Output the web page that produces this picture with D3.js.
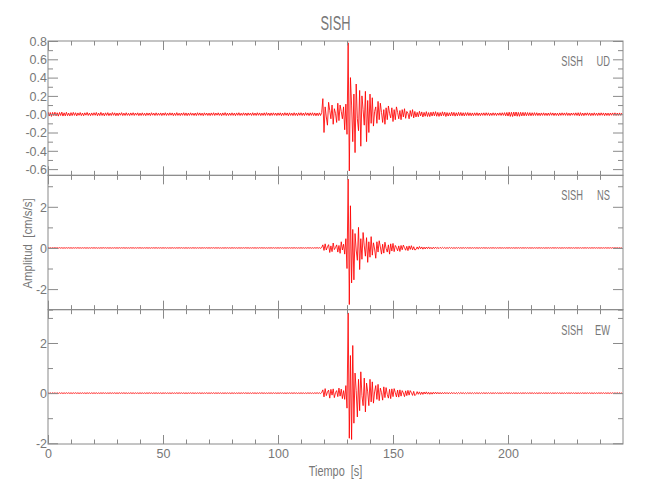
<!DOCTYPE html>
<html><head><meta charset="utf-8">
<script src="https://cdn.jsdelivr.net/npm/d3@7"></script>
<style>
body{margin:0;background:#fff}
svg text{font-family:"Liberation Sans",Arial,sans-serif;fill:#777;white-space:pre}
</style></head><body>
<svg id="chart" width="650" height="500"></svg>
<script>
const chartTitle = "SISH";
const stationName = "SISH";
const components = ["UD","NS","EW"];
const xTitle = "Tiempo  [s]";
const yTitle = "Amplitud  [cm/s/s]";
const sampleStart = 0, sampleStep = 0.5;
const timeDomain = [0, 250];
const timeTicks = [0,50,100,150,200];
const timeTickLabels = ["0","50","100","150","200"];
const timeMinorTicks = [10,20,30,40,60,70,80,90,110,120,130,140,160,170,180,190,210,220,230,240];

const udDomain = [-0.668, 0.8];
const udTicks = [-0.6,-0.4,-0.2,0,0.2,0.4,0.6,0.8];
const udTickLabels = ["-0.6","-0.4","-0.2","-0.0","0.2","0.4","0.6","0.8"];
const udMinorTicks = [-0.5,-0.3,-0.1,0.1,0.3,0.5,0.7];

const nsDomain = [-3.0, 3.53];
const nsTicks = [-2,0,2];
const nsTickLabels = ["-2","0","2"];
const nsMinorTicks = [-3,-1,1,3];

const ewDomain = [-2.03, 3.33];
const ewTicks = [-2,0,2];
const ewTickLabels = ["-2","0","2"];
const ewMinorTicks = [-1,1,3];

const udValues = [
.025,-.02,.018,-.024,.02,-.015,.022,-.018,.016,-.021,.019,-.014,.023,-.02,.015,-.018,.021,-.016,.012,-.019,
.017,-.015,.02,-.013,.016,-.019,.014,-.012,.018,-.016,.013,-.017,.015,-.011,.019,-.014,.012,-.016,.014,-.013,
.016,-.012,.019,-.017,.013,-.015,.02,-.014,.012,-.018,.015,-.013,.017,-.016,.011,-.014,.018,-.012,.015,-.017,
.013,-.016,.014,-.011,.017,-.015,.012,-.014,.016,-.013,.011,-.015,.014,-.012,.016,-.014,.013,-.011,.015,-.016,
.012,-.014,.015,-.013,.011,-.016,.014,-.012,.013,-.015,.016,-.011,.012,-.014,.015,-.013,.011,-.012,.014,-.015,
.013,-.012,.016,-.014,.012,-.013,.015,-.011,.014,-.016,.012,-.014,.017,-.013,.011,-.015,.013,-.012,.016,-.014,
.014,-.016,.012,-.013,.015,-.012,.011,-.014,.013,-.015,.016,-.012,.014,-.013,.012,-.016,.015,-.011,.013,-.014,
.012,-.015,.014,-.012,.016,-.014,.013,-.011,.015,-.013,.012,-.016,.014,-.012,.017,-.015,.013,-.014,.012,-.013,
.015,-.013,.012,-.016,.014,-.012,.016,-.014,.011,-.013,.015,-.012,.013,-.015,.014,-.011,.012,-.014,.016,-.013,
.013,-.014,.016,-.012,.014,-.015,.012,-.013,.015,-.014,.017,-.012,.013,-.016,.014,-.013,.015,-.012,.013,-.015,
.014,-.012,.015,-.016,.013,-.014,.016,-.012,.014,-.017,.015,-.013,.012,-.015,.016,-.014,.013,-.016,.015,-.012,
.016,-.014,.013,-.015,.017,-.012,.014,-.016,.015,-.013,.016,-.015,.014,-.017,.013,-.016,.015,-.014,.018,.17,
-.2,.08,-.03,-.12,.13,.04,-.05,.1,-.11,.06,.01,-.09,.12,-.07,.1,.03,-.05,.08,-.17,.11,
-.22,.78,-.62,.4,.1,-.3,.22,-.42,.33,-.05,-.18,.26,-.35,.2,.05,-.12,.25,-.3,.15,-.2,
.22,-.1,.18,-.13,.03,.08,-.1,.14,-.06,.12,.02,-.09,.05,-.11,.07,-.06,.09,.01,-.04,.07,
-.08,.05,-.06,.08,.02,-.05,.04,-.06,.05,-.03,.06,-.045,.03,.01,-.05,.04,-.025,.05,-.04,.03,
-.03,.02,-.028,.032,-.018,.025,-.03,.02,-.022,.028,-.025,.018,-.026,.022,-.02,.025,-.018,.028,-.022,.02,
-.024,.018,-.02,.026,-.016,.022,-.025,.018,-.02,.016,-.019,.022,-.017,.02,-.021,.016,-.018,.02,-.016,.019,
-.018,.016,-.019,.017,-.015,.018,-.016,.015,-.017,.014,-.016,.015,-.014,.016,-.015,.013,-.016,.014,-.013,.015,
-.014,.016,-.013,.015,-.016,.012,-.014,.015,-.013,.014,-.015,.013,-.012,.015,-.014,.016,-.013,.017,-.018,.019,
-.02,.022,-.024,.021,-.025,.023,-.02,.024,-.022,.02,-.023,.021,-.019,.02,-.018,.02,-.017,.018,-.016,.017,
-.017,.016,-.015,.017,-.014,.016,-.015,.013,-.016,.014,-.013,.015,-.014,.012,-.015,.013,-.014,.016,-.012,.014,
-.015,.013,-.014,.012,-.016,.014,-.013,.015,-.012,.014,-.013,.016,-.014,.012,-.015,.013,-.011,.014,-.013,.015,
-.014,.016,-.018,.017,-.015,.013,-.016,.014,-.012,.015,-.013,.014,-.016,.012,-.014,.015,-.013,.012,-.015,.014,
-.013,.015,-.012,.014,-.016,.013,-.014,.012,-.015,.013,-.012,.014,-.013,.015,-.014,.012,-.013,.014,-.012,.013
];

const nsValues = [
.015,-.012,.01,-.014,.012,-.009,.013,-.011,.01,-.012,.014,-.01,.011,-.013,.009,-.011,.012,-.01,.013,-.012,
.011,-.013,.01,-.009,.012,-.011,.013,-.01,.009,-.012,.011,-.01,.012,-.013,.01,-.011,.009,-.012,.013,-.01,
.012,-.01,.011,-.013,.009,-.012,.01,-.011,.013,-.009,.012,-.011,.01,-.012,.011,-.013,.009,-.01,.012,-.011,
.01,-.012,.013,-.011,.01,-.009,.012,-.013,.011,-.01,.009,-.012,.013,-.01,.011,-.012,.01,-.011,.012,-.009,
.013,-.011,.009,-.012,.011,-.01,.012,-.011,.01,-.013,.012,-.009,.011,-.01,.013,-.012,.01,-.009,.011,-.012,
.011,-.01,.012,-.013,.01,-.011,.009,-.012,.013,-.011,.01,-.012,.011,-.009,.012,-.01,.013,-.011,.009,-.012,
.012,-.013,.011,-.01,.009,-.012,.013,-.011,.01,-.012,.011,-.01,.012,-.013,.01,-.009,.011,-.012,.013,-.01,
.01,-.011,.012,-.009,.013,-.012,.011,-.01,.012,-.011,.009,-.013,.01,-.012,.011,-.01,.012,-.011,.01,-.013,
.013,-.01,.011,-.012,.01,-.013,.012,-.011,.009,-.01,.012,-.011,.013,-.01,.011,-.012,.009,-.011,.012,-.01,
.011,-.012,.01,-.011,.013,-.009,.012,-.01,.011,-.013,.01,-.012,.011,-.01,.012,-.011,.013,-.012,.01,-.011,
.012,-.011,.013,-.01,.011,-.012,.01,-.013,.012,-.011,.013,-.01,.011,-.012,.014,-.011,.012,-.013,.011,-.012,
.013,-.012,.011,-.014,.012,-.013,.015,-.011,.013,-.014,.012,-.015,.014,-.012,.016,-.013,.015,-.017,.02,.15,
-.12,.2,-.1,.05,.16,-.22,.1,-.18,.24,-.08,.02,.15,-.2,.12,-.26,.3,-.1,.18,-.3,.45,
-1.0,3.35,-2.75,2.05,-1.7,.9,-1.55,.7,-.1,-.6,1.0,-1.05,.45,-.55,.75,.1,-.4,.5,-.7,.3,
-.45,.55,-.35,.25,-.05,-.5,.3,-.2,.35,.05,-.3,.18,-.25,.28,-.02,-.2,.15,-.3,.2,-.15,
.22,-.18,.12,.02,-.14,.1,-.17,.12,-.09,.14,.01,-.11,.08,-.13,.1,-.07,.11,-.09,.06,-.1,
-.07,.05,-.06,.07,-.04,.05,-.06,.04,-.05,.045,-.035,.05,-.04,.03,-.045,.035,-.03,.04,-.03,.025,
-.03,.028,-.025,.03,-.022,.024,-.026,.02,-.022,.025,-.018,.02,-.022,.017,-.02,.018,-.016,.02,-.017,.015,
-.018,.017,-.016,.017,-.015,.016,-.014,.015,-.016,.014,-.013,.015,-.014,.013,-.015,.012,-.014,.013,-.012,.014,
-.013,.012,-.014,.011,-.013,.012,-.011,.013,-.012,.011,-.013,.012,-.011,.013,-.012,.01,-.012,.011,-.013,.012,
-.011,.013,-.012,.01,-.011,.012,-.013,.011,-.01,.012,-.011,.013,-.012,.011,-.01,.012,-.011,.013,-.012,.01,
-.012,.011,-.013,.012,-.01,.011,-.012,.013,-.011,.01,-.012,.011,-.013,.01,-.011,.012,-.01,.011,-.012,.013,
-.011,.012,-.01,.013,-.012,.011,-.013,.01,-.011,.012,-.01,.011,-.012,.013,-.011,.01,-.012,.011,-.013,.012,
-.012,.01,-.011,.012,-.013,.011,-.01,.012,-.011,.013,-.012,.01,-.011,.012,-.01,.013,-.011,.012,-.01,.011,
-.013,.011,-.012,.01,-.011,.013,-.012,.011,-.01,.012,-.011,.013,-.012,.01,-.011,.012,-.013,.011,-.012,.01
];

const ewValues = [
.016,-.013,.012,-.015,.014,-.011,.013,-.016,.012,-.014,.015,-.012,.013,-.014,.011,-.013,.015,-.012,.014,-.013,
.012,-.014,.013,-.011,.015,-.013,.012,-.014,.011,-.012,.014,-.013,.012,-.015,.013,-.011,.012,-.014,.013,-.012,
.013,-.012,.014,-.015,.011,-.013,.012,-.011,.014,-.012,.013,-.014,.011,-.012,.015,-.013,.012,-.011,.014,-.013,
.011,-.013,.015,-.012,.013,-.011,.014,-.013,.012,-.014,.011,-.012,.014,-.013,.012,-.015,.013,-.012,.011,-.014,
.014,-.012,.011,-.013,.012,-.014,.013,-.012,.015,-.011,.013,-.014,.012,-.011,.014,-.013,.011,-.012,.013,-.015,
.012,-.011,.013,-.014,.012,-.013,.011,-.015,.014,-.012,.011,-.013,.015,-.012,.013,-.011,.014,-.013,.012,-.014,
.013,-.015,.012,-.011,.014,-.012,.013,-.014,.011,-.013,.012,-.011,.014,-.015,.012,-.013,.011,-.012,.015,-.013,
.011,-.012,.014,-.013,.015,-.014,.012,-.011,.013,-.012,.014,-.015,.011,-.013,.012,-.014,.013,-.012,.011,-.015,
.014,-.013,.012,-.015,.011,-.012,.013,-.014,.012,-.011,.015,-.013,.014,-.012,.011,-.013,.012,-.015,.014,-.011,
.012,-.014,.011,-.012,.014,-.011,.015,-.013,.012,-.014,.011,-.013,.012,-.011,.013,-.014,.015,-.012,.011,-.013,
.013,-.012,.015,-.011,.012,-.014,.011,-.015,.013,-.012,.014,-.011,.012,-.013,.015,-.012,.013,-.016,.012,-.014,
.014,-.013,.012,-.016,.013,-.015,.016,-.012,.014,-.015,.013,-.016,.015,-.013,.017,-.014,.016,-.018,.022,.13,
-.15,.18,-.1,.04,.12,-.2,.15,-.08,.17,-.18,.02,.1,-.14,.2,-.12,.16,-.22,.1,-.25,.3,
-.6,3.2,-1.8,1.5,-1.85,1.9,-1.2,.8,.1,-.95,.55,-.7,.85,-.1,-.5,.6,-.75,.4,.05,-.5,
.55,-.35,.45,-.4,.05,.3,-.25,.35,-.3,.2,.02,-.28,.25,-.18,.22,-.05,-.2,.15,-.22,.17,
-.14,.18,.02,-.15,.12,-.16,.13,-.12,.1,.01,-.14,.09,-.1,.11,-.08,.1,.02,-.09,.07,-.1,
-.05,.06,-.045,.05,-.055,.04,-.05,.045,-.035,.05,-.04,.035,-.045,.03,-.04,.035,-.03,.04,-.03,.032,
-.03,.028,-.032,.025,-.028,.03,-.024,.026,-.028,.022,-.025,.027,-.022,.024,-.026,.02,-.023,.022,-.02,.024,
-.021,.02,-.022,.018,-.02,.021,-.018,.02,-.019,.017,-.02,.018,-.017,.019,-.018,.016,-.018,.017,-.016,.018,
-.017,.016,-.015,.017,-.016,.015,-.016,.014,-.015,.016,-.014,.015,-.016,.014,-.015,.013,-.015,.014,-.013,.015,
-.014,.015,-.014,.013,-.015,.014,-.013,.014,-.015,.013,-.014,.013,-.015,.014,-.013,.015,-.014,.013,-.014,.015,
-.013,.014,-.015,.013,-.014,.012,-.015,.014,-.013,.015,-.014,.012,-.013,.015,-.014,.013,-.012,.014,-.015,.013,
-.014,.013,-.012,.015,-.013,.014,-.015,.012,-.014,.013,-.015,.014,-.012,.013,-.014,.015,-.013,.012,-.014,.013,
-.015,.013,-.014,.012,-.013,.015,-.014,.013,-.012,.014,-.013,.015,-.014,.012,-.015,.013,-.014,.012,-.013,.014,
-.012,.014,-.013,.015,-.014,.012,-.013,.014,-.015,.013,-.012,.014,-.013,.012,-.014,.015,-.013,.014,-.012,.013
];

// ---- layout ----
const plotLeft = 48, plotRight = 623, plotTop = 41, plotBottom = 444;
const panelH = (plotBottom - plotTop) / 3;
const axisColor = "#8a8a8a", textColor = "#777";

const panels = [
  {comp: components[0], values: udValues, domain: udDomain, ticks: udTicks, labels: udTickLabels, minor: udMinorTicks},
  {comp: components[1], values: nsValues, domain: nsDomain, ticks: nsTicks, labels: nsTickLabels, minor: nsMinorTicks},
  {comp: components[2], values: ewValues, domain: ewDomain, ticks: ewTicks, labels: ewTickLabels, minor: ewMinorTicks}
];

const svg = d3.select("#chart");
const x = d3.scaleLinear().domain(timeDomain).range([plotLeft, plotRight]);
const defs = svg.append("defs");

function styleAxis(g) {
  g.select(".domain").remove();
  g.selectAll(".tick line").attr("stroke", axisColor);
  g.selectAll(".tick text").attr("fill", textColor).style("font-size", "12.5px");
}

panels.forEach((p, i) => {
  const y0 = plotTop + i * panelH, y1 = y0 + panelH;
  const y = d3.scaleLinear().domain(p.domain).range([y1, y0]);
  const g = svg.append("g");

  defs.append("clipPath").attr("id", "clip" + i)
    .append("rect").attr("x", plotLeft).attr("y", y0).attr("width", plotRight - plotLeft).attr("height", panelH);

  const line = d3.line()
    .x((d, k) => x(sampleStart + k * sampleStep))
    .y(d => y(d));
  g.append("path").datum(p.values)
    .attr("clip-path", "url(#clip" + i + ")")
    .attr("fill", "none").attr("stroke", "#ff0000").attr("stroke-width", 0.85)
    .attr("d", line);

  g.append("g").attr("transform", `translate(${plotLeft},0)`)
    .call(d3.axisLeft(y).tickValues(p.ticks).tickSize(-10).tickSizeOuter(0).tickPadding(1)
      .tickFormat((d, k) => p.labels[k]))
    .call(styleAxis)
    .call(a => a.selectAll(".tick text").attr("dy", "0.35em"));
  g.append("g").attr("transform", `translate(${plotLeft},0)`)
    .call(d3.axisLeft(y).tickValues(p.minor).tickSize(-5).tickSizeOuter(0).tickFormat(""))
    .call(styleAxis);
  g.append("g").attr("transform", `translate(${plotRight},0)`)
    .call(d3.axisRight(y).tickValues(p.ticks).tickSize(-10).tickSizeOuter(0).tickFormat(""))
    .call(styleAxis);
  g.append("g").attr("transform", `translate(${plotRight},0)`)
    .call(d3.axisRight(y).tickValues(p.minor).tickSize(-5).tickSizeOuter(0).tickFormat(""))
    .call(styleAxis);
  g.append("g").attr("transform", `translate(0,${y0})`)
    .call(d3.axisTop(x).tickValues(timeTicks).tickSize(-9).tickSizeOuter(0).tickFormat(""))
    .call(styleAxis);
  g.append("g").attr("transform", `translate(0,${y0})`)
    .call(d3.axisTop(x).tickValues(timeMinorTicks).tickSize(-4.5).tickSizeOuter(0).tickFormat(""))
    .call(styleAxis);
  const isLast = i === panels.length - 1;
  g.append("g").attr("transform", `translate(0,${y1})`)
    .call(d3.axisBottom(x).tickValues(timeTicks).tickSize(-9).tickSizeOuter(0).tickPadding(5)
      .tickFormat((d, k) => isLast ? timeTickLabels[k] : ""))
    .call(styleAxis);
  g.append("g").attr("transform", `translate(0,${y1})`)
    .call(d3.axisBottom(x).tickValues(timeMinorTicks).tickSize(-4.5).tickSizeOuter(0).tickFormat(""))
    .call(styleAxis);

  g.append("rect").attr("x", plotLeft).attr("y", y0).attr("width", plotRight - plotLeft).attr("height", panelH)
    .attr("fill", "none").attr("stroke", axisColor).attr("stroke-width", 1);

  g.append("text").attr("transform", `translate(583,${y0 + 25}) scale(0.6,1)`)
    .attr("text-anchor", "end").style("font-size", "15.5px").text(stationName);
  g.append("text").attr("transform", `translate(610,${y0 + 25}) scale(0.6,1)`)
    .attr("text-anchor", "end").style("font-size", "15.5px").text(p.comp);
});

svg.append("text").attr("transform", `translate(${(plotLeft + plotRight) / 2},30) scale(0.64,1)`)
  .attr("text-anchor", "middle").style("font-size", "20px").text(chartTitle);

svg.append("text").attr("transform", `translate(${(plotLeft + plotRight) / 2},476) scale(0.78,1)`)
  .attr("text-anchor", "middle").style("font-size", "14px").text(xTitle);
svg.append("text").attr("transform", `translate(32,${(plotTop + plotBottom) / 2 + 1}) rotate(-90) scale(0.88,1)`)
  .attr("text-anchor", "middle").style("font-size", "13px").text(yTitle);
</script>
</body></html>
